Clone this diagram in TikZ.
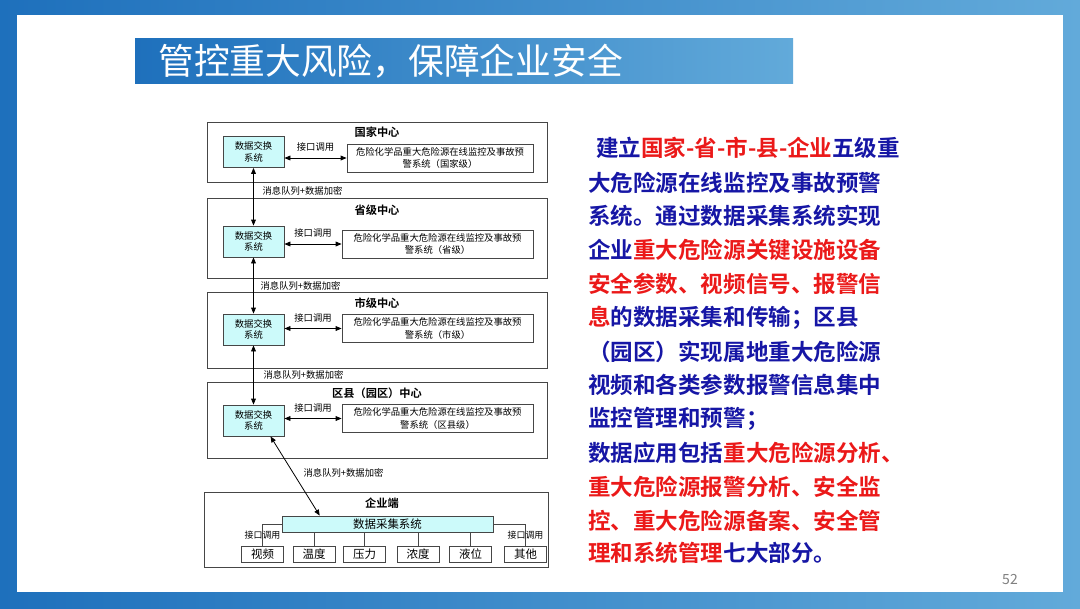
\documentclass[tikz,border=0pt]{standalone}
\usepackage{fontspec}
\usepackage{xcolor}
\usepackage{tikz}
\usetikzlibrary{arrows.meta,positioning,calc}
\newfontfamily\cjk{Noto Sans CJK SC}[BoldFont={Noto Sans CJK SC Bold}]
\definecolor{frameblue}{RGB}{30,112,188}
\definecolor{framelight}{RGB}{98,170,218}
\definecolor{boxcyan}{RGB}{204,250,250}
\definecolor{txtblue}{RGB}{22,22,165}
\definecolor{txtred}{RGB}{235,25,25}
\definecolor{linegray}{RGB}{70,70,70}
\newcommand{\rd}[1]{\textcolor{txtred}{#1}}

\begin{document}
\begin{tikzpicture}[x=0.75pt, y=-0.75pt,
  level/.style={draw=linegray, line width=0.6pt, fill=white, minimum width=255pt},
  xch/.style={draw=linegray, line width=0.6pt, fill=boxcyan, align=center, inner sep=0pt,
              minimum width=45.75pt, minimum height=23.25pt, font=\cjk\fontsize{7}{8.5}\selectfont},
  sysbox/.style={draw=linegray, line width=0.6pt, fill=white, align=center, inner sep=0pt,
              minimum height=21pt, font=\cjk\fontsize{7}{9.5}\selectfont},
  ttl/.style={font=\cjk\bfseries\fontsize{8.4}{10}\selectfont, inner sep=0pt},
  lbl/.style={font=\cjk\fontsize{7}{8}\selectfont, inner sep=1pt},
  sensor/.style={draw=linegray, line width=0.6pt, fill=white, minimum width=31.5pt, minimum height=12pt,
              inner sep=0pt, font=\cjk\fontsize{8.6}{10}\selectfont},
  arr/.style={{Triangle[length=4.5pt,width=3.6pt]}-{Triangle[length=4.5pt,width=3.6pt]}, line width=0.6pt, black},
  wire/.style={draw=linegray, line width=0.6pt},
  txt/.style={anchor=west, inner sep=0pt, font=\cjk\bfseries\fontsize{16.9}{20}\selectfont, text=txtblue}
]
\useasboundingbox (0,0) rectangle (1080,608);
% slide frame and title bar
\shade[left color=frameblue, right color=framelight] (0,0) rectangle (1080,608);
\fill[white] (17,15) rectangle (1063,592);
\shade[left color=frameblue, right color=framelight] (135,38) rectangle (793,83);
\node[anchor=west, inner sep=0pt, text=white, font=\cjk\fontsize{26.8}{30}\selectfont] (title) at (158,61) {管控重大风险，保障企业安全};

% national centre
\node[level, minimum height=45pt] (lv1) at (377,152) {};
\node[ttl] (lv1t) at (377,132) {国家中心};
\node[xch] (xch1) at (253.5,152) {数据交换\\系统};
\node[sysbox, minimum width=139.5pt] (sys1) at (440,158) {危险化学品重大危险源在线监控及事故预\\警系统（国家级）};
% province centre
\node[level, minimum height=60pt] (lv2) at (377,238) {};
\node[ttl] (lv2t) at (377,210) {省级中心};
\node[xch] (xch2) at (253.5,241.5) {数据交换\\系统};
\node[sysbox, minimum width=143.25pt] (sys2) at (437.5,244) {危险化学品重大危险源在线监控及事故预\\警系统（省级）};
% city centre
\node[level, minimum height=57pt] (lv3) at (377,330) {};
\node[ttl] (lv3t) at (377,303) {市级中心};
\node[xch] (xch3) at (253.5,329.5) {数据交换\\系统};
\node[sysbox, minimum width=143.25pt] (sys3) at (437.5,328.5) {危险化学品重大危险源在线监控及事故预\\警系统（市级）};
% county centre
\node[level, minimum height=57pt] (lv4) at (377,420) {};
\node[ttl] (lv4t) at (377,393) {区县（园区）中心};
\node[xch] (xch4) at (253.5,420.5) {数据交换\\系统};
\node[sysbox, minimum width=143.25pt] (sys4) at (437.5,418.5) {危险化学品重大危险源在线监控及事故预\\警系统（区县级）};

\foreach \i in {1,2,3,4}{
  \draw[arr] (xch\i.east |- sys\i.west) -- node[lbl, above=3.5pt] {接口调用} (sys\i.west);
}
\draw[arr] (xch1.south) -- (xch2.north);
\draw[arr] (xch2.south) -- (xch3.north);
\draw[arr] (xch3.south) -- (xch4.north);
\node[lbl, anchor=west] (mq1) at (261,191) {消息队列+数据加密};
\node[lbl, anchor=west] (mq2) at (259,286) {消息队列+数据加密};
\node[lbl, anchor=west] (mq3) at (262,375) {消息队列+数据加密};
\node[lbl, anchor=west] (mq4) at (302,473) {消息队列+数据加密};

% enterprise side
\node[level, minimum width=258pt, minimum height=56.25pt] (lv5) at (376,529.5) {};
\node[ttl] (lv5t) at (382,503) {企业端};
\node[xch, minimum width=158.25pt, minimum height=12pt, font=\cjk\fontsize{8.6}{10}\selectfont] (collect) at (387.5,524) {数据采集系统};
\node[sensor] (video) at (262.5,554) {视频};
\node[sensor] (temp) at (314,554) {温度};
\node[sensor] (press) at (364.5,554) {压力};
\node[sensor] (conc) at (418,554) {浓度};
\node[sensor] (lvl) at (470.5,554) {液位};
\node[sensor] (other) at (525.5,554) {其他};
\draw[wire] (video.north) |- node[lbl, pos=0.25, font=\cjk\fontsize{6.7}{8}\selectfont] {接口调用} (collect.west);
\draw[wire] (collect.east) -| node[lbl, pos=0.75, font=\cjk\fontsize{6.7}{8}\selectfont] {接口调用} (other.north);
\draw[wire] (temp.north) -- (temp.north |- collect.south);
\draw[wire] (press.north) -- (press.north |- collect.south);
\draw[wire] (conc.north) -- (conc.north |- collect.south);
\draw[wire] (lvl.north) -- (lvl.north |- collect.south);
\draw[arr] ($(xch4.south)!0.55!(xch4.south east)$) -- ($(collect.north west)!0.18!(collect.north east)$);

% explanation text
\node[txt] (line1) at (596,148) {建立\rd{国家-省-市-县-企业}五级重};
\node[txt] (line2) at (588,183) {大危险源在线监控及事故预警};
\node[txt] (line3) at (588,216) {系统。通过数据采集系统实现};
\node[txt] (line4) at (588,250) {企业\rd{重大危险源关键设施设备}};
\node[txt] (line5) at (588,284) {\rd{安全参数、视频信号、报警信}};
\node[txt] (line6) at (588,318) {\rd{息}的数据采集和传输；区县};
\node[txt] (line7) at (588,352) {（园区）实现属地重大危险源};
\node[txt] (line8) at (588,385) {视频和各类参数报警信息集中};
\node[txt] (line9) at (588,419) {监控管理和预警；};
\node[txt] (line10) at (588,453) {数据应用包括\rd{重大危险源分析、}};
\node[txt] (line11) at (588,487) {\rd{重大危险源报警分析、安全监}};
\node[txt] (line12) at (588,521) {\rd{控、重大危险源备案、安全管}};
\node[txt] (line13) at (588,553) {\rd{理和系统管理}七大部分。};
\node[text=gray, font=\cjk\fontsize{10.5}{12}\selectfont] (pageno) at (1010,579) {52};
\end{tikzpicture}
\end{document}
